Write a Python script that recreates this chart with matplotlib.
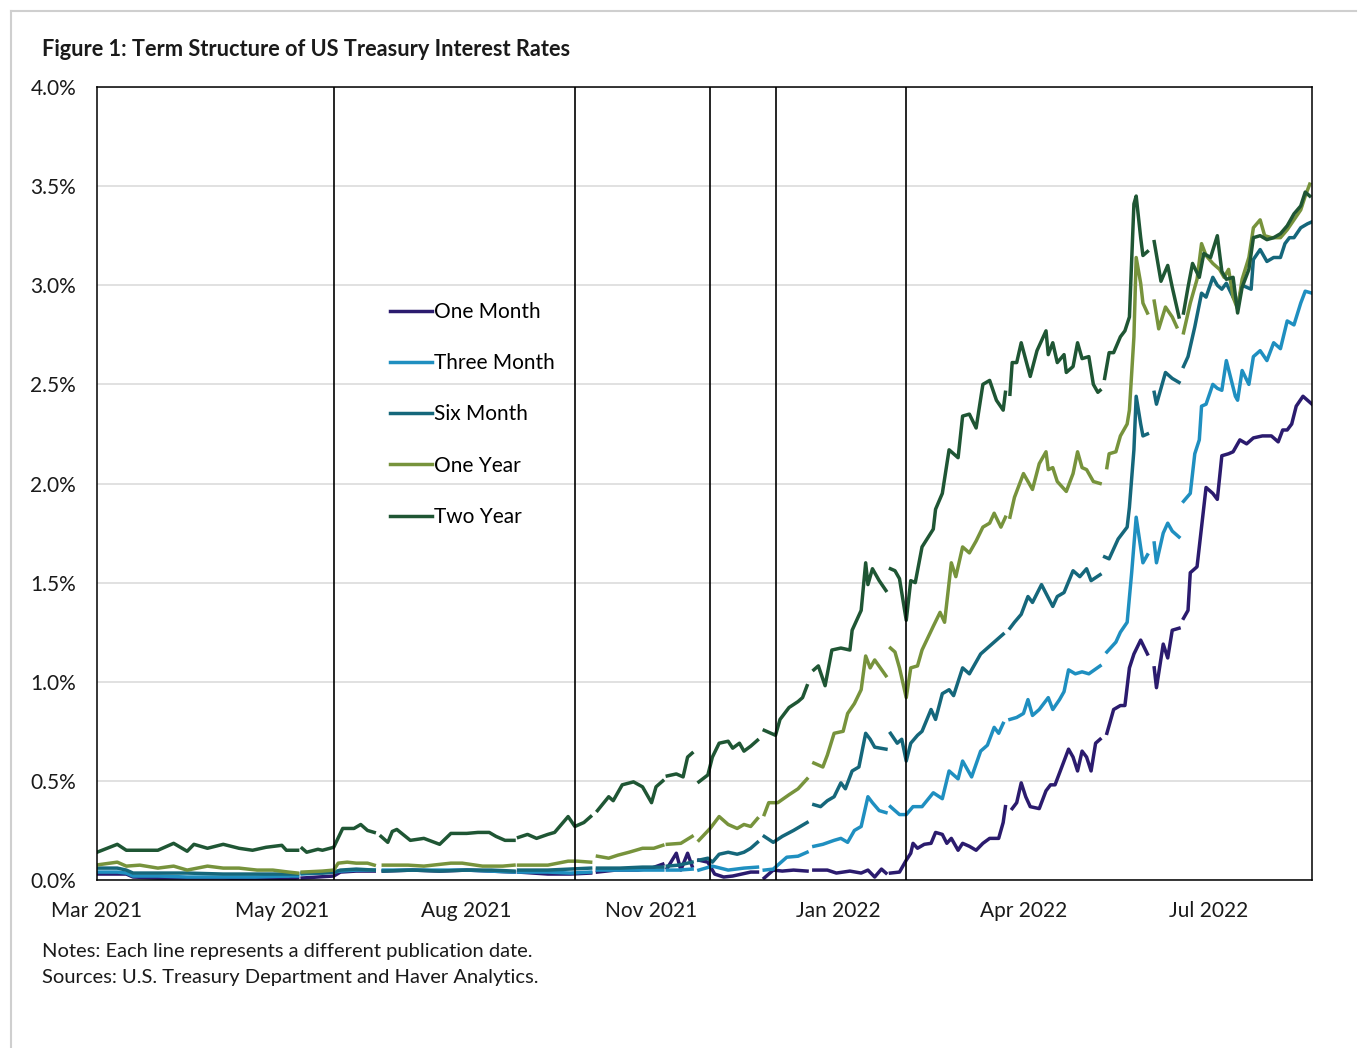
import matplotlib
matplotlib.use("Agg")
import matplotlib.pyplot as plt
import matplotlib.dates as mdates
from matplotlib.lines import Line2D
import numpy as np
import pandas as pd

plt.rcParams['font.family'] = ['Lato', 'DejaVu Sans']

# x = days since 1 Mar 2021, y = rate in %; None marks a break between publications
start = pd.Timestamp('2021-03-01')
end_day = 539

one_month = [
    (0, 0.03), (9, 0.03), (13, 0.03), (16, 0.015), (27, 0.01), (40, 0.01), (56, 0.01), (70, 0.005), (85, 0.005), (89, 0.01),
    (90, None),
    (91, 0.01), (105, 0.02), (108, 0.04), (115, 0.045), (123, 0.045),
    (125, None),
    (127, 0.045), (140, 0.05), (152, 0.045), (164, 0.05), (175, 0.045), (185, 0.04),
    (186, None),
    (187, 0.04), (200, 0.03), (210, 0.03), (219, 0.035),
    (220, None),
    (222, 0.04), (230, 0.05), (240, 0.05), (246, 0.06), (251, 0.08),
    (252, None),
    (253, 0.06), (257, 0.135), (259, 0.05), (262, 0.135), (264, 0.07),
    (265, None),
    (267, 0.10), (271, 0.09), (274, 0.03), (278, 0.015), (282, 0.02), (286, 0.03), (290, 0.04), (293, 0.04),
    (295, None),
    (296, 0.01), (300, 0.05), (304, 0.045), (309, 0.05), (315, 0.045),
    (316, None),
    (318, 0.05), (324, 0.05), (328, 0.035), (334, 0.045), (339, 0.035), (342, 0.05), (345, 0.015), (348, 0.055), (350, 0.035),
    (351, None),
    (352, 0.035), (356, 0.04), (359, 0.10), (361, 0.135), (362, 0.185), (364, 0.16), (367, 0.18), (370, 0.185), (372, 0.24),
    (375, 0.23), (377, 0.185), (379, 0.21), (382, 0.15), (384, 0.185), (387, 0.17), (390, 0.15), (393, 0.185), (396, 0.21),
    (400, 0.21), (402, 0.29), (403, 0.37),
    (404, None),
    (406, 0.36), (408, 0.39), (410, 0.49), (412, 0.42), (414, 0.37), (418, 0.36), (421, 0.45), (423, 0.48), (425, 0.48),
    (428, 0.57), (431, 0.66), (433, 0.62), (435, 0.55), (437, 0.65), (439, 0.62), (441, 0.55), (443, 0.69), (445, 0.71),
    (446, None),
    (448, 0.74), (451, 0.86), (454, 0.88), (456, 0.88), (458, 1.07), (460, 1.14), (463, 1.21), (466, 1.14),
    (467, None),
    (469, 1.07), (470, 0.97), (473, 1.19), (475, 1.12), (477, 1.26), (480, 1.27),
    (481, None),
    (482, 1.32), (484, 1.36), (485, 1.55), (488, 1.58), (490, 1.78), (492, 1.98), (495, 1.95), (497, 1.92), (499, 2.14),
    (502, 2.15), (504, 2.16), (507, 2.22), (510, 2.20), (513, 2.23), (517, 2.24), (521, 2.24), (524, 2.21), (526, 2.27),
    (528, 2.27), (530, 2.30), (532, 2.39), (535, 2.44), (537, 2.42), (539, 2.40),
]

three_month = [
    (0, 0.04), (9, 0.04), (13, 0.035), (16, 0.02), (27, 0.02), (40, 0.015), (56, 0.015), (70, 0.015), (85, 0.02), (89, 0.02),
    (90, None),
    (91, 0.03), (105, 0.04), (108, 0.045), (115, 0.05), (123, 0.05),
    (125, None),
    (127, 0.05), (140, 0.05), (152, 0.05), (164, 0.05), (175, 0.045), (185, 0.04),
    (186, None),
    (187, 0.04), (200, 0.04), (210, 0.035), (219, 0.04),
    (220, None),
    (222, 0.05), (230, 0.05), (240, 0.05), (251, 0.05),
    (252, None),
    (253, 0.05), (258, 0.05), (264, 0.055),
    (265, None),
    (267, 0.05), (273, 0.07), (280, 0.05), (287, 0.06), (293, 0.065),
    (295, None),
    (296, 0.05), (300, 0.055), (306, 0.115), (311, 0.12), (315, 0.14),
    (316, None),
    (318, 0.17), (322, 0.18), (327, 0.20), (330, 0.21), (333, 0.19), (336, 0.25), (339, 0.27), (342, 0.42), (344, 0.39),
    (347, 0.35), (350, 0.34),
    (351, None),
    (352, 0.37), (354, 0.35), (356, 0.33), (359, 0.33), (362, 0.37), (366, 0.37), (371, 0.44), (375, 0.41), (378, 0.55),
    (382, 0.51), (384, 0.60), (388, 0.52), (392, 0.65), (395, 0.68), (398, 0.77), (400, 0.74), (402, 0.79),
    (404, None),
    (405, 0.81), (408, 0.82), (411, 0.84), (413, 0.91), (415, 0.83), (418, 0.86), (422, 0.92), (424, 0.86), (427, 0.91),
    (429, 0.95), (431, 1.06), (434, 1.04), (437, 1.05), (440, 1.04), (445, 1.08),
    (446, None),
    (448, 1.15), (452, 1.20), (454, 1.25), (457, 1.30), (459, 1.55), (461, 1.83), (464, 1.60), (466, 1.64),
    (467, None),
    (469, 1.70), (470, 1.60), (473, 1.75), (475, 1.80), (477, 1.76), (480, 1.73),
    (481, None),
    (482, 1.91), (485, 1.95), (487, 2.15), (489, 2.22), (490, 2.39), (492, 2.40), (495, 2.50), (497, 2.48), (499, 2.47),
    (501, 2.62), (503, 2.53), (505, 2.44), (506, 2.42), (508, 2.57), (511, 2.50), (513, 2.64), (516, 2.67), (519, 2.62),
    (522, 2.71), (525, 2.68), (528, 2.82), (531, 2.80), (534, 2.91), (536, 2.97), (539, 2.96),
]

six_month = [
    (0, 0.06), (9, 0.06), (13, 0.05), (16, 0.035), (27, 0.035), (40, 0.035), (56, 0.03), (70, 0.03), (85, 0.03), (89, 0.03),
    (90, None),
    (91, 0.035), (100, 0.035), (105, 0.04), (108, 0.05), (115, 0.055), (123, 0.05),
    (125, None),
    (127, 0.045), (140, 0.05), (152, 0.045), (164, 0.05), (175, 0.05), (185, 0.045),
    (186, None),
    (187, 0.05), (200, 0.05), (210, 0.055), (219, 0.06),
    (220, None),
    (222, 0.06), (232, 0.06), (242, 0.065), (251, 0.065),
    (252, None),
    (253, 0.07), (258, 0.075), (264, 0.09),
    (265, None),
    (267, 0.10), (271, 0.11), (273, 0.09), (276, 0.13), (280, 0.14), (284, 0.13), (287, 0.14), (290, 0.16), (293, 0.19),
    (295, None),
    (296, 0.22), (300, 0.19), (304, 0.22), (309, 0.25), (312, 0.27), (315, 0.29),
    (316, None),
    (318, 0.38), (321, 0.37), (324, 0.40), (327, 0.42), (330, 0.49), (332, 0.46), (335, 0.55), (338, 0.57), (341, 0.74),
    (343, 0.71), (345, 0.67), (350, 0.66),
    (351, None),
    (352, 0.74), (355, 0.69), (357, 0.71), (359, 0.60), (361, 0.69), (364, 0.73), (366, 0.75), (370, 0.86), (372, 0.81),
    (375, 0.94), (378, 0.96), (380, 0.93), (384, 1.07), (387, 1.04), (392, 1.14), (396, 1.18), (399, 1.21), (402, 1.24),
    (404, None),
    (405, 1.27), (407, 1.30), (410, 1.34), (413, 1.43), (415, 1.40), (419, 1.49), (424, 1.38), (426, 1.43), (429, 1.45),
    (433, 1.56), (436, 1.53), (439, 1.57), (441, 1.51), (445, 1.54),
    (446, None),
    (447, 1.63), (449, 1.62), (453, 1.72), (457, 1.78), (458, 1.88), (460, 2.17), (461, 2.44), (463, 2.30), (464, 2.24),
    (466, 2.25),
    (467, None),
    (469, 2.46), (470, 2.40), (474, 2.56), (477, 2.53), (480, 2.51),
    (481, None),
    (482, 2.59), (484, 2.64), (487, 2.79), (490, 2.96), (492, 2.94), (495, 3.04), (497, 3.00), (499, 2.98), (501, 3.01),
    (504, 2.94), (506, 2.90), (508, 3.00), (512, 2.98), (513, 3.13), (516, 3.18), (519, 3.12), (522, 3.14), (525, 3.14),
    (527, 3.21), (529, 3.24), (531, 3.24), (534, 3.29), (537, 3.31), (539, 3.32),
]

one_year = [
    (0, 0.076), (9, 0.09), (13, 0.07), (19, 0.075), (27, 0.06), (34, 0.07), (40, 0.05), (49, 0.07), (56, 0.06), (63, 0.06),
    (71, 0.05), (78, 0.05), (85, 0.04), (89, 0.035),
    (90, None),
    (91, 0.04), (100, 0.045), (105, 0.05), (107, 0.085), (111, 0.09), (115, 0.085), (120, 0.085), (123, 0.075),
    (125, None),
    (127, 0.075), (138, 0.075), (145, 0.07), (157, 0.085), (162, 0.085), (171, 0.07), (180, 0.07), (185, 0.075),
    (186, None),
    (187, 0.075), (200, 0.075), (209, 0.095), (213, 0.095), (219, 0.09),
    (220, None),
    (222, 0.12), (227, 0.11), (231, 0.125), (236, 0.14), (242, 0.16), (247, 0.16), (251, 0.175),
    (252, None),
    (253, 0.18), (259, 0.185), (264, 0.22),
    (265, None),
    (267, 0.20), (272, 0.26), (276, 0.32), (280, 0.28), (284, 0.26), (287, 0.28), (290, 0.27), (293, 0.31),
    (295, None),
    (296, 0.33), (298, 0.39), (302, 0.39), (307, 0.43), (311, 0.46), (315, 0.51),
    (316, None),
    (318, 0.59), (322, 0.57), (324, 0.63), (327, 0.74), (331, 0.75), (333, 0.84), (336, 0.89), (339, 0.96), (341, 1.13),
    (343, 1.07), (345, 1.11), (350, 1.03),
    (351, None),
    (352, 1.17), (354, 1.15), (356, 1.07), (359, 0.92), (361, 1.07), (364, 1.08), (366, 1.16), (371, 1.28), (374, 1.35),
    (376, 1.30), (379, 1.60), (381, 1.53), (384, 1.68), (387, 1.65), (390, 1.71), (393, 1.78), (396, 1.80), (398, 1.85),
    (401, 1.78), (403, 1.83),
    (404, None),
    (405, 1.83), (407, 1.93), (411, 2.05), (415, 1.97), (418, 2.10), (421, 2.16), (422, 2.07), (424, 2.08), (426, 2.01),
    (430, 1.96), (433, 2.05), (435, 2.16), (437, 2.08), (439, 2.07), (442, 2.01), (445, 2.00),
    (446, None),
    (448, 2.08), (449, 2.15), (452, 2.16), (454, 2.24), (457, 2.30), (458, 2.37), (460, 2.74), (461, 3.14), (463, 3.01),
    (464, 2.91), (466, 2.86),
    (467, None),
    (469, 2.92), (471, 2.78), (474, 2.89), (477, 2.84), (479, 2.79),
    (481, None),
    (482, 2.76), (485, 2.91), (488, 3.03), (490, 3.21), (492, 3.15), (495, 3.11), (498, 3.08), (500, 3.04), (502, 3.08),
    (504, 2.94), (506, 2.88), (508, 3.03), (511, 3.14), (513, 3.29), (516, 3.33), (518, 3.25), (521, 3.24), (525, 3.24),
    (528, 3.28), (531, 3.33), (534, 3.38), (536, 3.45), (538, 3.51),
]

two_year = [
    (0, 0.14), (9, 0.18), (13, 0.15), (19, 0.15), (27, 0.15), (34, 0.185), (40, 0.145), (43, 0.18), (49, 0.16), (56, 0.18),
    (63, 0.16), (69, 0.15), (75, 0.165), (82, 0.175), (84, 0.15), (89, 0.15),
    (90, None),
    (91, 0.16), (93, 0.14), (98, 0.155), (100, 0.15), (105, 0.165), (109, 0.26), (114, 0.26), (117, 0.28), (120, 0.25),
    (123, 0.24),
    (125, None),
    (126, 0.22), (129, 0.19), (131, 0.245), (133, 0.255), (139, 0.20), (145, 0.21), (152, 0.18), (157, 0.235), (164, 0.235),
    (169, 0.24), (174, 0.24), (177, 0.22), (181, 0.20), (185, 0.20),
    (186, None),
    (187, 0.215), (191, 0.23), (195, 0.21), (200, 0.23), (203, 0.24), (209, 0.32), (212, 0.27), (216, 0.29), (219, 0.32),
    (220, None),
    (222, 0.35), (227, 0.42), (229, 0.40), (233, 0.48), (238, 0.495), (242, 0.47), (246, 0.39), (248, 0.47), (251, 0.50),
    (252, None),
    (253, 0.525), (257, 0.535), (260, 0.52), (262, 0.62), (264, 0.64),
    (265, None),
    (267, 0.495), (271, 0.53), (273, 0.62), (276, 0.69), (280, 0.70), (282, 0.665), (285, 0.69), (287, 0.65), (290, 0.675),
    (293, 0.705),
    (295, None),
    (296, 0.755), (301, 0.73), (303, 0.81), (307, 0.87), (311, 0.90), (313, 0.92), (315, 0.98),
    (316, None),
    (318, 1.06), (320, 1.08), (323, 0.98), (326, 1.16), (330, 1.17), (334, 1.16), (335, 1.26), (339, 1.36), (341, 1.60),
    (342, 1.49), (344, 1.57), (347, 1.51), (350, 1.46),
    (351, None),
    (352, 1.57), (354, 1.56), (356, 1.52), (359, 1.31), (361, 1.51), (363, 1.50), (366, 1.68), (371, 1.77), (372, 1.87),
    (375, 1.95), (378, 2.17), (382, 2.13), (384, 2.34), (387, 2.35), (390, 2.28), (393, 2.50), (396, 2.52), (399, 2.42),
    (402, 2.37), (403, 2.46),
    (404, None),
    (405, 2.45), (406, 2.61), (408, 2.61), (410, 2.71), (414, 2.54), (417, 2.67), (421, 2.77), (422, 2.65), (424, 2.71),
    (426, 2.61), (429, 2.65), (430, 2.56), (433, 2.59), (435, 2.71), (437, 2.63), (440, 2.64), (442, 2.50), (444, 2.46),
    (445, 2.47),
    (446, None),
    (447, 2.53), (449, 2.66), (451, 2.66), (454, 2.74), (456, 2.77), (458, 2.84), (460, 3.41), (461, 3.45), (463, 3.24),
    (464, 3.15), (466, 3.17),
    (467, None),
    (469, 3.22), (472, 3.02), (475, 3.10), (477, 2.99), (480, 2.84),
    (481, None),
    (482, 2.86), (484, 2.99), (486, 3.11), (489, 3.04), (491, 3.16), (494, 3.14), (497, 3.25), (499, 3.07), (501, 3.03),
    (504, 3.04), (506, 2.86), (508, 2.99), (511, 3.08), (513, 3.24), (516, 3.25), (519, 3.23), (522, 3.24), (525, 3.26),
    (528, 3.30), (531, 3.36), (534, 3.40), (536, 3.47), (538, 3.45),
]

series_names = ['One Month', 'Three Month', 'Six Month', 'One Year', 'Two Year']
series_data = [one_month, three_month, six_month, one_year, two_year]
series_colors = ['#2B1B6E', '#1F8FC0', '#15677B', '#77933C', '#1F5634']

publication_dates = ['2021-06-14', '2021-09-29', '2021-11-28', '2021-12-27', '2022-02-23']
tick_dates = ['2021-03-01', '2021-05-22', '2021-08-12', '2021-11-02', '2022-01-24', '2022-04-16', '2022-07-07']
y_ticks = [0.0, 0.5, 1.0, 1.5, 2.0, 2.5, 3.0, 3.5, 4.0]

W, H = 1366, 1048
fig = plt.figure(figsize=(W / 100, H / 100), dpi=100)
ax = fig.add_axes([97 / W, 1 - 880 / H, (1312 - 97) / W, (880 - 87) / H])

for name, data, color in zip(series_names, series_data, series_colors):
    days = np.array([d for d, v in data], dtype=float)
    vals = np.array([v for d, v in data], dtype=float)
    x = start + pd.to_timedelta(days, unit='D')
    ax.plot(x, vals, color=color, lw=2.5, label=name, solid_joinstyle='round', zorder=3)

for d in publication_dates:
    ax.axvline(pd.Timestamp(d), color='black', lw=1.2, zorder=4)

ax.set_xlim(start, start + pd.Timedelta(days=end_day))
ax.set_ylim(0, 4)
ax.set_yticks(y_ticks)
ax.set_yticklabels([f'{t:.1f}%' for t in y_ticks])
ax.set_xticks(pd.to_datetime(tick_dates))
ax.xaxis.set_major_formatter(mdates.DateFormatter('%b %Y'))
ax.tick_params(length=0, labelsize=15, colors='#1a1a1a')
ax.tick_params(axis='y', pad=15)
ax.tick_params(axis='x', pad=15)
ax.grid(axis='y', color='#D9D9D9', lw=1.1, zorder=0)
for s in ax.spines.values():
    s.set_color('black')
    s.set_linewidth(1.1)
    s.set_zorder(5)

fig.legend(loc='upper left', bbox_to_anchor=(390 / W, 1 - 302 / H), frameon=False,
           fontsize=15, handlelength=2.0, handletextpad=0.1, labelspacing=1.5, borderpad=0,
           borderaxespad=0)

fig.text(42 / W, 1 - 50 / H, 'Figure 1: Term Structure of US Treasury Interest Rates',
         fontsize=15.7, fontweight='bold', va='center', ha='left', color='#1a1a1a')
fig.text(42 / W, 1 - 951 / H, 'Notes: Each line represents a different publication date.',
         fontsize=14.5, va='center', ha='left', color='#1a1a1a')
fig.text(42 / W, 1 - 977 / H, 'Sources: U.S. Treasury Department and Haver Analytics.',
         fontsize=14.5, va='center', ha='left', color='#1a1a1a')

# light frame around the exhibit
fig.add_artist(Line2D([11 / W, 1356 / W], [1 - 11 / H, 1 - 11 / H], color='#CFCFCF', lw=1.5))
fig.add_artist(Line2D([11 / W, 11 / W], [1 - 11 / H, 0], color='#CFCFCF', lw=1.5))

fig.savefig('out.png', dpi=100)
